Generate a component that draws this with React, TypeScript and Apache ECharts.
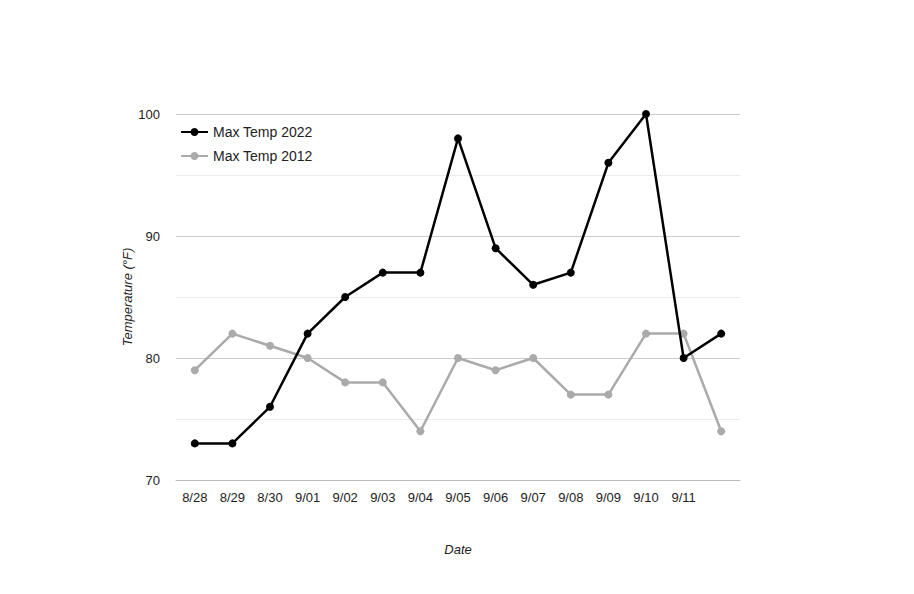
import React, { useEffect, useRef } from "react";
import * as echarts from "echarts";

const categories = ["8/28", "8/29", "8/30", "9/01", "9/02", "9/03", "9/04", "9/05", "9/06", "9/07", "9/08", "9/09", "9/10", "9/11", "9/12"];
const maxTemp2022 = [73, 73, 76, 82, 85, 87, 87, 98, 89, 86, 87, 96, 100, 80, 82];
const maxTemp2012 = [79, 82, 81, 80, 78, 78, 74, 80, 79, 80, 77, 77, 82, 82, 74];

const FONT = "Liberation Sans, Arial, sans-serif";

export default function App() {
  const ref = useRef<HTMLDivElement>(null);
  useEffect(() => {
    const chart = echarts.init(ref.current!, null, { renderer: "svg" });
    chart.setOption({
      animation: false,
      backgroundColor: "#fff",
      grid: { left: 176, right: 174, top: 114, bottom: 114, containLabel: false },
      legend: {
        orient: "vertical",
        left: 175,
        top: 120,
        itemGap: 10,
        itemWidth: 27,
        itemHeight: 10,
        textStyle: { fontFamily: FONT, fontSize: 14, color: "#222" },
        data: ["Max Temp 2022", "Max Temp 2012"],
      },
      xAxis: {
        type: "category",
        data: categories,
        boundaryGap: true,
        name: "Date",
        nameLocation: "middle",
        nameGap: 63,
        nameTextStyle: { fontFamily: FONT, fontSize: 13, fontStyle: "italic", color: "#222" },
        axisLine: { show: true, lineStyle: { color: "#bbb" } },
        axisTick: { show: false },
        axisLabel: {
          fontFamily: FONT,
          fontSize: 13,
          color: "#222",
          margin: 11,
          interval: (i: number) => i < categories.length - 1,
        },
      },
      yAxis: {
        type: "value",
        min: 70,
        max: 100,
        interval: 10,
        name: "Temperature (°F)",
        nameLocation: "middle",
        nameGap: 42,
        nameMoveOverlap: false,
        nameTextStyle: { fontFamily: FONT, fontSize: 13, fontStyle: "italic", color: "#222" },
        axisLine: { show: false },
        axisTick: { show: false },
        axisLabel: { fontFamily: FONT, fontSize: 13, color: "#222", margin: 16 },
        splitLine: { show: true, lineStyle: { color: "#ccc", width: 1 } },
        minorTick: { show: false, splitNumber: 2 },
        minorSplitLine: { show: true, lineStyle: { color: "#ebebeb", width: 1 } },
      },
      series: [
        {
          name: "Max Temp 2022",
          type: "line",
          data: maxTemp2022,
          symbol: "circle",
          symbolSize: 8,
          z: 3,
          lineStyle: { color: "#000", width: 2.5 },
          itemStyle: { color: "#000" },
        },
        {
          name: "Max Temp 2012",
          type: "line",
          data: maxTemp2012,
          symbol: "circle",
          symbolSize: 8,
          z: 2,
          lineStyle: { color: "#aaa", width: 2.5 },
          itemStyle: { color: "#aaa" },
        },
      ],
    });
    return () => chart.dispose();
  }, []);
  return <div ref={ref} style={{ width: 914, height: 594, margin: -8 }} />;
}
